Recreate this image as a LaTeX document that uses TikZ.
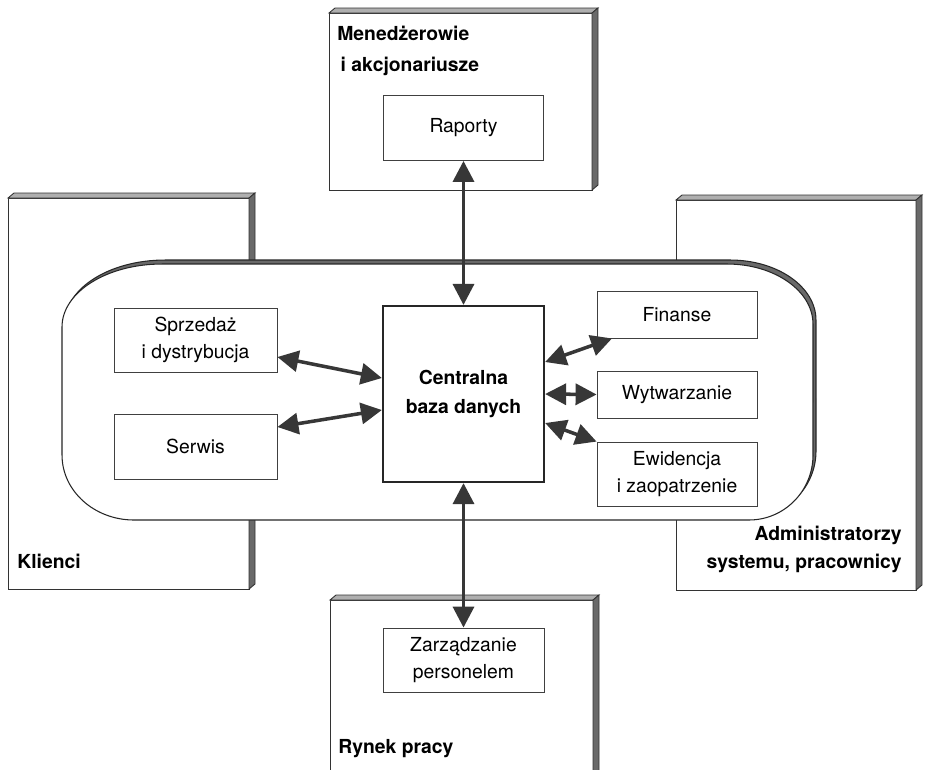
\documentclass[tikz,border=0pt]{standalone}
\usepackage{fontspec}
\setmainfont{TeX Gyre Heros}
\usetikzlibrary{positioning, arrows.meta, calc}
\definecolor{linkgray}{RGB}{55,55,55}
\definecolor{facelight}{RGB}{175,175,175}
\definecolor{facedark}{RGB}{105,105,105}

\begin{document}
\begin{tikzpicture}[x=0.02cm, y=-0.02cm,
    modul/.style={rectangle, draw=black!75, line width=0.5pt, fill=white, align=center, inner sep=2pt, minimum width=3.2cm, font=\fontsize{11}{15}\selectfont},
    baza/.style={modul, draw=black!85, line width=1.3pt, font=\fontsize{11}{17}\selectfont\bfseries},
    grupa/.style={inner sep=0pt, font=\fontsize{11}{16}\selectfont\bfseries},
    plyta/.style={draw=black!80, line width=0.5pt},
    link/.style={{Triangle[length=0.42cm, width=0.42cm]}-{Triangle[length=0.42cm, width=0.42cm]}, line width=2pt, draw=linkgray}
]
    \useasboundingbox (0,0) rectangle (927,769);
    \clip (0,0) rectangle (927,769);

    % === Plyty otoczenia ===
    \foreach \xa/\ya/\xb/\yb in {329/8/598/190, 8/193/255/589, 676/195/922/590, 330/595/599/800}{
        \filldraw[plyta, fill=white] (\xa,{\ya+5}) rectangle ({\xb-6},\yb);
        \filldraw[plyta, fill=facelight] (\xa,{\ya+5}) -- ({\xa+6},\ya) -- (\xb,\ya) -- ({\xb-6},{\ya+5}) -- cycle;
        \filldraw[plyta, fill=facedark] ({\xb-6},{\ya+5}) -- (\xb,\ya) -- (\xb,{\yb-5}) -- ({\xb-6},\yb) -- cycle;
    }

    % === System (zaokraglona plyta) ===
    \foreach \s/\kol in {1/facedark, 0/white}
        \filldraw[fill=\kol, draw=black!85, line width=0.6pt, shift={({3*\s},{-4*\s})}]
            (62,327) arc[start angle=180, end angle=90, x radius=2cm, y radius=1.26cm]
            -- (727,264) arc[start angle=90, end angle=0, x radius=1.72cm, y radius=1.2cm]
            -- (813,455) arc[start angle=0, end angle=-90, x radius=1.28cm, y radius=1.3cm]
            -- (134,520) arc[start angle=270, end angle=180, x radius=1.44cm, y radius=1.3cm]
            -- cycle;

    % === Etykiety grup ===
    \node[grupa, anchor=north west, align=left] (menedz) at (337,26) {Menedżerowie\\[1.5pt]\,i akcjonariusze};
    \node[grupa, anchor=base west] (klienci) at (17,568) {Klienci};
    \node[grupa, anchor=north east, align=right] (admin) at (902,526) {Administratorzy\\systemu, pracownicy};
    \node[grupa, anchor=base west] (rynek) at (338,753) {Rynek pracy};

    % === Moduly ===
    \node[modul, minimum height=1.3cm] (raporty) at (463.5,128) {Raporty};
    \node[baza, minimum width=3.22cm, minimum height=3.52cm] (centrum) at (463.5,394) {Centralna\\baza danych};
    \node[modul, minimum width=3.26cm, minimum height=1.28cm] (sprzedaz) at (195.5,340) {Sprzedaż\\i dystrybucja};
    \node[modul, minimum width=3.26cm, minimum height=1.3cm] (serwis) at (195.5,446.5) {Serwis};
    \node[modul, minimum height=0.94cm] (finanse) at (677,314.5) {Finanse};
    \node[modul, minimum height=0.94cm] (wytw) at (677,394.5) {Wytwarzanie};
    \node[modul, minimum height=1.28cm] (ewid) at (677,474) {Ewidencja\\i zaopatrzenie};
    \node[modul, minimum width=3.22cm, minimum height=1.28cm] (kadry) at (463.5,660) {Zarządzanie\\personelem};

    % === Przeplywy danych ===
    \draw[link] (raporty.south) -- (centrum.north);
    \draw[link] ([yshift=-0.34cm]sprzedaz.east) -- ([yshift=0.32cm]centrum.west);
    \draw[link] ([yshift=0.39cm]serwis.east) -- ([yshift=-0.32cm]centrum.west);
    \draw[link] ([yshift=0.64cm]centrum.east) -- ([xshift=-1.3cm]finanse.south);
    \draw[link] (centrum.east) -- (wytw.west);
    \draw[link] ([yshift=-0.58cm]centrum.east) -- (ewid.north west);
    \draw[link] (centrum.south) -- (kadry.north);

\end{tikzpicture}
\end{document}
